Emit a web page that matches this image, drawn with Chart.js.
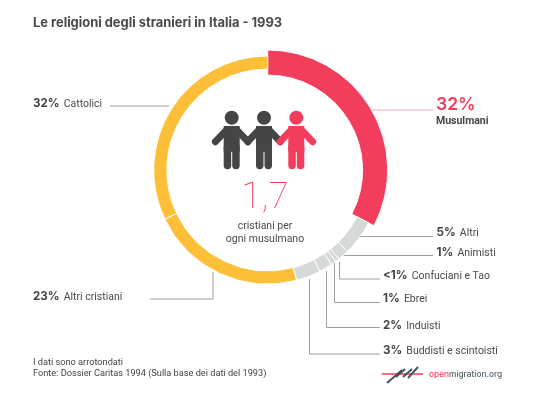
<!DOCTYPE html>
<html lang="it">
<head>
<meta charset="UTF-8">
<title>Le religioni degli stranieri in Italia - 1993</title>
<script src="https://cdnjs.cloudflare.com/ajax/libs/Chart.js/4.4.1/chart.umd.min.js"></script>
<style>
    html, body { margin: 0; padding: 0; background: #fff; }
    #stage { position: relative; width: 554px; height: 396px; overflow: hidden; font-family: Roboto, sans-serif; color: #4a4a4a; }
    #stage canvas { position: absolute; left: 0; top: 0; }
    #stage svg { position: absolute; left: 0; top: 0; }
    .txt { position: absolute; white-space: nowrap; line-height: 1; }
    .lab { font-size: 10.5px; transform: translateY(-50%); margin-top: 0.7px; }
    .lab b { font-family: Inter, sans-serif; font-weight: 700; font-size: 11.6px; margin-right: 1.5px; color: #444; }
    #title { left: 33px; top: 17px; font-family: Inter, sans-serif; font-weight: 700; font-size: 12.9px; color: #4a4a4a; letter-spacing: 0; }
    #big { left: 436px; top: 95px; font-family: Inter, sans-serif; font-weight: 600; font-size: 17.5px; color: #f23d5c; }
    #mus { left: 436px; top: 116px; font-weight: 700; font-size: 10.5px; color: #444; }
    #ratio { left: 265px; top: 177px; transform: translateX(-50%); font-family: Roboto, sans-serif; font-weight: 100; font-size: 37px; color: #f23d5c; }
    #sub { left: 265px; top: 220px; transform: translateX(-50%); text-align: center; font-size: 10.5px; line-height: 12.5px; }
    #note { left: 33px; top: 357px; font-size: 9.2px; line-height: 10.7px; color: #444; }
    #logo { left: 429px; top: 370px; font-family: Inter, sans-serif; font-size: 8.3px; font-weight: 500; color: #55646a; }
    #logo span { color: #f23d5c; }
</style>
</head>
<body>
<div id="stage">
    <canvas id="ring" width="554" height="396"></canvas>

    <svg width="554" height="396">
        <defs>
            <g id="person">
                <circle cx="0" cy="0.4" r="7"/>
                <path d="M-8 8.7H8V34.5H-8Z"/>
                <path d="M-5 12.5L-16.3 24.4M5 12.5L16.3 24.4" stroke-width="7" stroke-linecap="round" fill="none"/>
                <rect x="-8" y="26" width="7.5" height="26" rx="3.7"/>
                <rect x="0.5" y="26" width="7.5" height="26" rx="3.7"/>
            </g>
        </defs>
        <use href="#person" x="231.7" y="117.3" fill="#454545" stroke="#454545" stroke-width="0"/>
        <use href="#person" x="264" y="117.3" fill="#454545" stroke="#454545" stroke-width="0"/>
        <use href="#person" x="296.3" y="117.3" fill="#f23d5c" stroke="#f23d5c" stroke-width="0"/>
        <!-- logo -->
        <path d="M381.7 374H423" stroke="#f23d5c" stroke-width="1.6"/>
        <path d="M387 383L402 370M396 377L405 369M403 377L412 369M408 378L418 367" stroke="#43565c" stroke-width="2"/>
    </svg>

    <div class="txt" id="title">Le religioni degli stranieri in Italia - 1993</div>

    <div class="txt lab" style="left:33px;top:103px"><b>32%</b> Cattolici</div>
    <div class="txt lab" style="left:33px;top:296px"><b>23%</b> Altri cristiani</div>

    <div class="txt" id="big">32%</div>
    <div class="txt" id="mus">Musulmani</div>

    <div class="txt lab" style="left:436.5px;top:232px"><b>5%</b> Altri</div>
    <div class="txt lab" style="left:436.5px;top:252px"><b>1%</b> Animisti</div>
    <div class="txt lab" style="left:383px;top:275px"><b>&lt;1%</b> Confuciani e Tao</div>
    <div class="txt lab" style="left:383px;top:298px"><b>1%</b> Ebrei</div>
    <div class="txt lab" style="left:383px;top:325px"><b>2%</b> Induisti</div>
    <div class="txt lab" style="left:383px;top:350px"><b>3%</b> Buddisti e scintoisti</div>

    <div class="txt" id="ratio">1,7</div>
    <div class="txt" id="sub">cristiani per<br>ogni musulmano</div>

    <div class="txt" id="note">I dati sono arrotondati<br>Fonte: Dossier Caritas 1994 (Sulla base dei dati del 1993)</div>
    <div class="txt" id="logo"><span>open</span>migration.org</div>
</div>

<script>
    // arc sizes (share of the circle, clockwise from the top)
    const categories = ['Musulmani', 'Altri', 'Animisti', 'Confuciani e Tao', 'Ebrei', 'Induisti', 'Buddisti e scintoisti', 'Altri cristiani', 'Cattolici'];
    const values = [32.7, 5, 1.6, 0.55, 0.7, 1.9, 3.5, 22, 32.1];
    const colors = ['#f23d5c', '#d5dad9', '#d5dad9', '#d5dad9', '#d5dad9', '#d5dad9', '#d5dad9', '#fdbf38', '#fdbf38'];

    // polylines from each arc to its label
    const leaders = [
        { color: '#a0a0a0', pts: [[110, 106], [169, 106]] },
        { color: '#a0a0a0', pts: [[213, 272], [213, 299], [150, 299]] },
        { color: '#f9a8b6', pts: [[373, 110], [433, 110]] },
        { color: '#a0a0a0', pts: [[360, 236.5], [433, 236.5]] },
        { color: '#a0a0a0', pts: [[344, 255.5], [433, 255.5]] },
        { color: '#a0a0a0', pts: [[339.5, 262], [339.5, 279], [380, 279]] },
        { color: '#a0a0a0', pts: [[334.5, 263], [334.5, 302.5], [380, 302.5]] },
        { color: '#a0a0a0', pts: [[326.5, 271], [326.5, 327.5], [380, 327.5]] },
        { color: '#a0a0a0', pts: [[309.5, 279], [309.5, 354], [380, 354]] }
    ];

    // the first slice is thicker than the rest of the ring
    const thickSlice = {
        id: 'thickSlice',
        afterDatasetsUpdate(chart) {
            const arc = chart.getDatasetMeta(0).data[0];
            arc.outerRadius += 6;
            arc.innerRadius -= 6;
        }
    };

    const leaderLines = {
        id: 'leaderLines',
        afterDraw(chart) {
            const ctx = chart.ctx;
            ctx.save();
            ctx.lineWidth = 1;
            leaders.forEach(l => {
                ctx.strokeStyle = l.color;
                ctx.beginPath();
                l.pts.forEach((p, i) => i ? ctx.lineTo(p[0], p[1]) : ctx.moveTo(p[0], p[1]));
                ctx.stroke();
            });
            ctx.restore();
        }
    };

    new Chart(document.getElementById('ring'), {
        type: 'doughnut',
        data: {
            labels: categories,
            datasets: [{
                data: values,
                backgroundColor: colors,
                borderColor: '#ffffff',
                borderWidth: 1
            }]
        },
        options: {
            responsive: false,
            animation: false,
            cutout: '88.5%',
            layout: { padding: { left: 153.2, right: 171.8, top: 55.5, bottom: 111.5 } },
            plugins: { legend: { display: false }, tooltip: { enabled: false } }
        },
        plugins: [thickSlice, leaderLines]
    });
</script>
</body>
</html>
